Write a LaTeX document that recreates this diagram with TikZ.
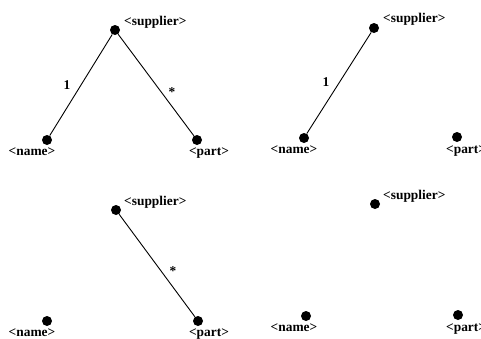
\documentclass[tikz,border=0pt]{standalone}
\usepackage{fontspec}
\setmainfont{Liberation Serif}
\begin{document}
\begin{tikzpicture}[x=1pt,y=-1pt,
  dot/.style={circle,fill=black,inner sep=0pt,minimum size=10pt},
  lbl/.style={inner sep=0pt,font=\fontsize{13.4}{16}\selectfont\bfseries},
  edge/.style={line width=0.9pt}]
\useasboundingbox (0,0) rectangle (481,338);
% panel 1
\node[dot] (s1) at (115,30) {};
\node[dot] (n1) at (47,140) {};
\node[dot] (p1) at (197,140) {};
\node[lbl,anchor=base west] (ls1) at (124,25) {<supplier>};
\node[lbl,anchor=base] (ln1) at (32,155) {<name>};
\node[lbl,anchor=base] (lp1) at (209,155) {<part>};
\draw[edge] (s1) -- (n1);
\draw[edge] (s1) -- (p1);
\node[lbl] (m1) at (67,85) {1};
\node[lbl] (m2) at (172,92) {*};
% panel 2
\node[dot] (s2) at (374,28) {};
\node[dot] (n2) at (304,138) {};
\node[dot] (p2) at (457,137) {};
\node[lbl,anchor=base west] (ls2) at (383,22) {<supplier>};
\node[lbl,anchor=base] (ln2) at (294,153) {<name>};
\node[lbl,anchor=base west] (lp2) at (446,153) {<part>};
\draw[edge] (s2) -- (n2);
\node[lbl] (m3) at (326,82) {1};
% panel 3
\node[dot] (s3) at (116,210) {};
\node[dot] (n3) at (47,321) {};
\node[dot] (p3) at (198,321) {};
\node[lbl,anchor=base west] (ls3) at (124,205) {<supplier>};
\node[lbl,anchor=base] (ln3) at (32,336) {<name>};
\node[lbl,anchor=base] (lp3) at (209,336) {<part>};
\draw[edge] (s3) -- (p3);
\node[lbl] (m4) at (173,271) {*};
% panel 4
\node[dot] (s4) at (375,204) {};
\node[dot] (n4) at (306,316) {};
\node[dot] (p4) at (458,315) {};
\node[lbl,anchor=base west] (ls4) at (383,199) {<supplier>};
\node[lbl,anchor=base] (ln4) at (294,331) {<name>};
\node[lbl,anchor=base west] (lp4) at (446,331) {<part>};
\end{tikzpicture}
\end{document}
